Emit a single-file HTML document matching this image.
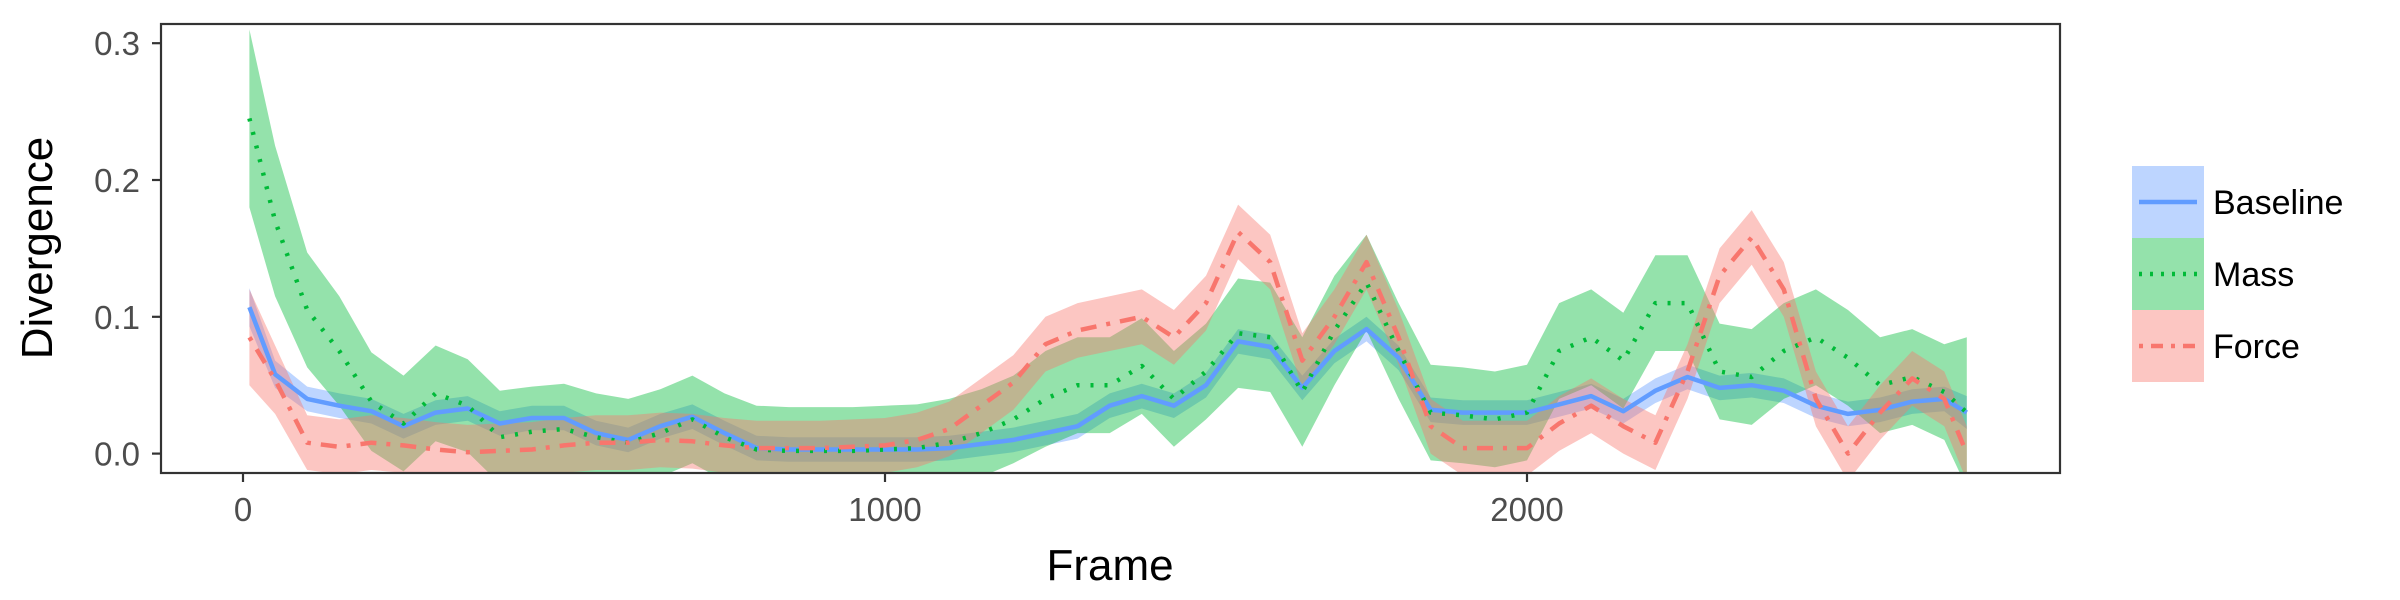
<!DOCTYPE html>
<html><head><meta charset="utf-8">
<style>
html,body{margin:0;padding:0;background:#fff;}
svg{display:block;font-family:"Liberation Sans",sans-serif;}
</style></head>
<body>
<svg id="chart" width="2400" height="600" viewBox="0 0 2400 600" xmlns="http://www.w3.org/2000/svg">
<defs><clipPath id="pc"><rect x="161" y="24" width="1899" height="449"/></clipPath></defs>
<rect x="0" y="0" width="2400" height="600" fill="#fff"/>
<g id="bands" clip-path="url(#pc)"></g>
<g id="lines" clip-path="url(#pc)"></g>
<rect x="161" y="24" width="1899" height="449" fill="none" stroke="#333" stroke-width="2.2"/>
<g id="axes"></g>
<text x="1110" y="580" font-size="44" text-anchor="middle" fill="#000">Frame</text>
<text transform="translate(52,248) rotate(-90)" font-size="44" text-anchor="middle" fill="#000">Divergence</text>
<g id="legend"></g>
</svg>
<script>
const frames=[10,50,100,150,200,250,300,350,400,450,500,550,600,650,700,750,800,850,900,950,1000,1050,1100,1150,1200,1250,1300,1350,1400,1450,1500,1550,1600,1650,1700,1750,1800,1850,1900,1950,2000,2050,2100,2150,2200,2250,2300,2350,2400,2450,2500,2550,2600,2650,2685];
const baseline=[.107,.058,.04,.035,.031,.02,.03,.033,.022,.026,.026,.015,.01,.02,.027,.015,.004,.003,.003,.003,.003,.003,.004,.007,.01,.015,.02,.035,.042,.035,.05,.082,.078,.048,.075,.091,.07,.032,.03,.03,.03,.036,.042,.031,.046,.056,.048,.05,.046,.035,.029,.032,.038,.04,.03];
const baselineSe=[.014,.01,.009,.009,.009,.009,.009,.009,.009,.009,.009,.009,.009,.009,.009,.009,.009,.009,.009,.009,.009,.009,.009,.009,.009,.009,.009,.009,.009,.009,.009,.009,.009,.009,.009,.009,.009,.009,.009,.009,.009,.009,.009,.009,.009,.009,.009,.009,.009,.009,.009,.009,.009,.009,.012];
const mass=[.245,.17,.105,.075,.038,.022,.044,.035,.012,.016,.018,.012,.008,.015,.025,.012,.003,.002,.002,.002,.003,.004,.008,.015,.025,.04,.05,.05,.064,.04,.06,.088,.085,.045,.09,.125,.075,.03,.028,.025,.03,.075,.085,.068,.11,.11,.06,.056,.075,.085,.07,.05,.056,.045,.03];
const massSe=[.065,.055,.042,.04,.036,.035,.035,.034,.034,.033,.033,.032,.032,.032,.032,.032,.032,.032,.032,.032,.032,.032,.032,.032,.032,.035,.035,.035,.035,.035,.035,.04,.04,.04,.04,.035,.035,.035,.035,.035,.035,.035,.035,.035,.035,.035,.035,.035,.035,.035,.035,.035,.035,.035,.055];
const force=[.085,.054,.008,.005,.008,.006,.003,.001,.002,.003,.006,.008,.008,.01,.009,.006,.004,.004,.004,.005,.006,.01,.018,.035,.052,.08,.09,.095,.1,.085,.11,.162,.14,.068,.1,.14,.085,.02,.004,.004,.004,.022,.035,.02,.008,.06,.13,.158,.12,.04,.0,.03,.055,.04,.0];
const forceSe=[.035,.025,.02,.02,.02,.02,.02,.02,.02,.02,.02,.02,.02,.02,.02,.02,.02,.02,.02,.02,.02,.02,.02,.02,.02,.02,.02,.02,.02,.02,.02,.02,.02,.02,.02,.02,.02,.02,.02,.02,.02,.02,.02,.02,.02,.02,.02,.02,.02,.02,.02,.02,.02,.02,.02];
const xTicks=[0,1000,2000];
const yTicks=[0.0,0.1,0.2,0.3];
const yTickLabels=["0.0","0.1","0.2","0.3"];
const seriesNames=["Baseline","Mass","Force"];

const NS="http://www.w3.org/2000/svg";
function X(f){return 243+f*0.642;}
function Y(v){return 453.6-v*1368;}
function mk(tag,attrs,parent){const e=document.createElementNS(NS,tag);for(const k in attrs)e.setAttribute(k,attrs[k]);parent.appendChild(e);return e;}
const series=[
 {name:"baseline",vals:baseline,se:baselineSe,col:"#619CFF",dash:"none"},
 {name:"mass",vals:mass,se:massSe,col:"#00BA38",dash:"3,11"},
 {name:"force",vals:force,se:forceSe,col:"#F8766D",dash:"4,10,16,10"}
];
const bandsG=document.getElementById('bands'),linesG=document.getElementById('lines');
series.forEach(s=>{
  let up=frames.map((f,i)=>X(f).toFixed(1)+","+Y(s.vals[i]+s.se[i]).toFixed(1));
  let lo=frames.map((f,i)=>X(f).toFixed(1)+","+Y(s.vals[i]-s.se[i]).toFixed(1)).reverse();
  const b=mk('polygon',{points:up.concat(lo).join(" "),fill:s.col,'fill-opacity':0.42},bandsG);
  
  
});
series.forEach(s=>{
  const pts=frames.map((f,i)=>X(f).toFixed(1)+","+Y(s.vals[i]).toFixed(1)).join(" ");
  const l=mk('polyline',{points:pts,fill:"none",stroke:s.col,'stroke-width':4.5,'stroke-dasharray':s.dash,'stroke-linejoin':'round'},linesG);
  
  
});
const ax=document.getElementById('axes');
yTicks.forEach((v,i)=>{
  const t=mk('line',{x1:152,x2:161,y1:Y(v),y2:Y(v),stroke:"#333",'stroke-width':2.2},ax);
  
  
  const l=mk('text',{x:140,y:Y(v)+12,'font-size':33,'text-anchor':'end',fill:"#4d4d4d"},ax);
  l.textContent=yTickLabels[i];
  
  
});
xTicks.forEach(v=>{
  const t=mk('line',{x1:X(v),x2:X(v),y1:473,y2:482,stroke:"#333",'stroke-width':2.2},ax);
  
  
  const l=mk('text',{x:X(v),y:521,'font-size':33,'text-anchor':'middle',fill:"#4d4d4d"},ax);
  l.textContent=String(v);
  
  
});
const lg=document.getElementById('legend');
series.forEach((s,i)=>{
  const y0=166+i*72;
  const r=mk('rect',{x:2132,y:y0,width:72,height:72,fill:s.col,'fill-opacity':0.42},lg);
  
  
  const l=mk('line',{x1:2139,x2:2197,y1:y0+36,y2:y0+36,stroke:s.col,'stroke-width':4.5,'stroke-dasharray':s.dash==="none"?"none":(i===1?"3,8":"4,8,12,8")},lg);
  
  
  const t=mk('text',{x:2213,y:y0+48,'font-size':34,fill:"#000"},lg);
  t.textContent=seriesNames[i];
  
  
});
</script>
</body></html>
